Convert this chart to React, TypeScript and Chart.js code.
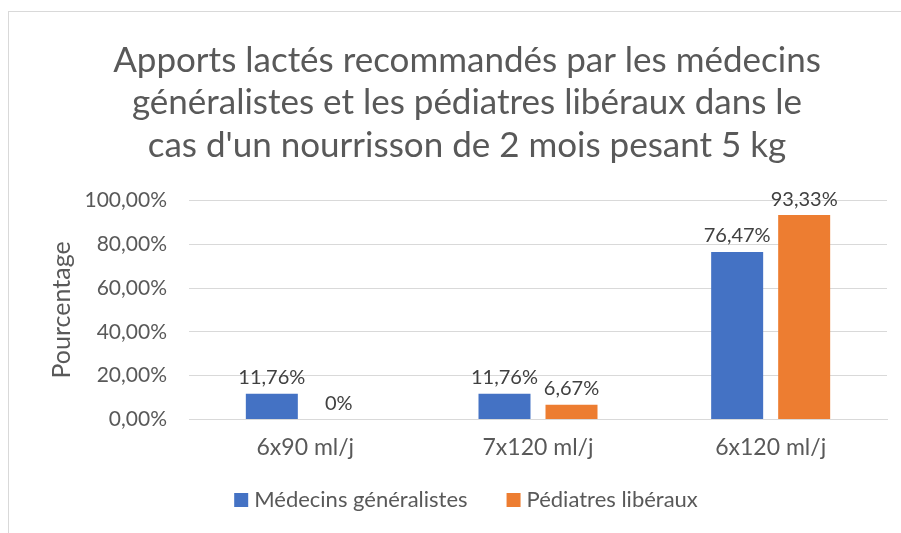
import React, { useEffect, useRef } from "react";
import { Chart, registerables } from "chart.js";

Chart.register(...registerables);

const titleLines = [
  "Apports lactés recommandés par les médecins",
  "généralistes et les pédiatres libéraux dans le",
  "cas d'un nourrisson de 2 mois pesant 5 kg",
];
const categories = ["6x90 ml/j", "7x120 ml/j", "6x120 ml/j"];
const seriesNames = ["Médecins généralistes", "Pédiatres libéraux"];
const seriesColors = ["#4472C4", "#ED7D31"];
const generalistes = [11.76, 11.76, 76.47];
const pediatres = [0, 6.67, 93.33];
const yTicks = [0, 20, 40, 60, 80, 100];
const yAxisTitle = "Pourcentage";

const FONT = "Lato, 'Open Sans', sans-serif";
const GREY = "#595959";

const fmt = (v: number) => (v === 0 ? "0%" : v.toFixed(2).replace(".", ",") + "%");

const dataLabels = {
  id: "dataLabels",
  afterDatasetsDraw(chart: any) {
    const ctx = chart.ctx;
    ctx.save();
    ctx.font = `20px ${FONT}`;
    ctx.fillStyle = "#404040";
    ctx.textAlign = "center";
    ctx.textBaseline = "bottom";
    chart.data.datasets.forEach((ds: any, i: number) => {
      const meta = chart.getDatasetMeta(i);
      meta.data.forEach((bar: any, j: number) => {
        ctx.fillText(fmt(ds.data[j]), bar.x, bar.y - 6);
      });
    });
    ctx.restore();
  },
};

const bottomLegend = {
  id: "bottomLegend",
  afterDraw(chart: any) {
    const ctx = chart.ctx;
    ctx.save();
    ctx.font = `22px ${FONT}`;
    ctx.textBaseline = "middle";
    ctx.textAlign = "left";
    const box = 14;
    const gapText = 6;
    const gapItem = 39;
    const items = chart.data.datasets.map((ds: any) => ({
      label: ds.label,
      color: ds.backgroundColor,
      w: box + gapText + ctx.measureText(ds.label).width,
    }));
    const total = items.reduce((s: number, it: any) => s + it.w, 0) + gapItem * (items.length - 1);
    const cy = 500;
    let x = 466 - total / 2;
    items.forEach((it: any) => {
      ctx.fillStyle = it.color;
      ctx.fillRect(x, cy - box / 2, box, box);
      ctx.fillStyle = GREY;
      ctx.fillText(it.label, x + box + gapText, cy);
      x += it.w + gapItem;
    });
    ctx.restore();
  },
};

export default function App() {
  const ref = useRef<HTMLCanvasElement | null>(null);
  useEffect(() => {
    if (!ref.current) return;
    const chart = new Chart(ref.current, {
      type: "bar",
      data: {
        labels: categories,
        datasets: [
          { label: seriesNames[0], data: generalistes, backgroundColor: seriesColors[0] },
          { label: seriesNames[1], data: pediatres, backgroundColor: seriesColors[1] },
        ],
      },
      options: {
        responsive: false,
        animation: false,
        devicePixelRatio: 1,
        layout: { padding: { left: 47, right: 14, top: 0, bottom: 58 } },
        datasets: {
          bar: { categoryPercentage: 0.576, barPercentage: 0.776 },
        },
        plugins: {
          title: {
            display: true,
            text: titleLines,
            color: GREY,
            font: { family: FONT, size: 35, weight: "normal", lineHeight: 1.214 },
            padding: { top: 39, bottom: 34 },
          },
          legend: { display: false },
          tooltip: { enabled: false },
        },
        scales: {
          x: {
            grid: { display: false, drawTicks: false },
            border: { color: "#d9d9d9" },
            ticks: { color: GREY, font: { family: FONT, size: 23 }, padding: 14 },
          },
          y: {
            min: 0,
            max: 100,
            afterBuildTicks: (axis: any) => {
              axis.ticks = yTicks.map((v) => ({ value: v }));
            },
            afterFit: (axis: any) => {
              axis.width = 142;
            },
            grid: { color: "#d9d9d9", drawTicks: false },
            border: { display: false },
            ticks: {
              color: GREY,
              font: { family: FONT, size: 21 },
              padding: 22,
              callback: (v: any) => Number(v).toFixed(2).replace(".", ",") + "%",
            },
            title: {
              display: true,
              text: yAxisTitle,
              color: GREY,
              font: { family: FONT, size: 25 },
              padding: 0,
            },
          },
        },
      },
      plugins: [dataLabels, bottomLegend],
    });
    return () => chart.destroy();
  }, []);
  return (
    <div style={{ position: "fixed", left: 0, top: 0, width: 901, height: 533, overflow: "hidden", background: "#fff" }}>
      <div
        style={{
          position: "absolute",
          left: 8,
          top: 11,
          width: 1000,
          height: 600,
          border: "1px solid #d9d9d9",
        }}
      />
      <canvas ref={ref} width={901} height={533} style={{ position: "absolute", left: 0, top: 0 }} />
    </div>
  );
}
